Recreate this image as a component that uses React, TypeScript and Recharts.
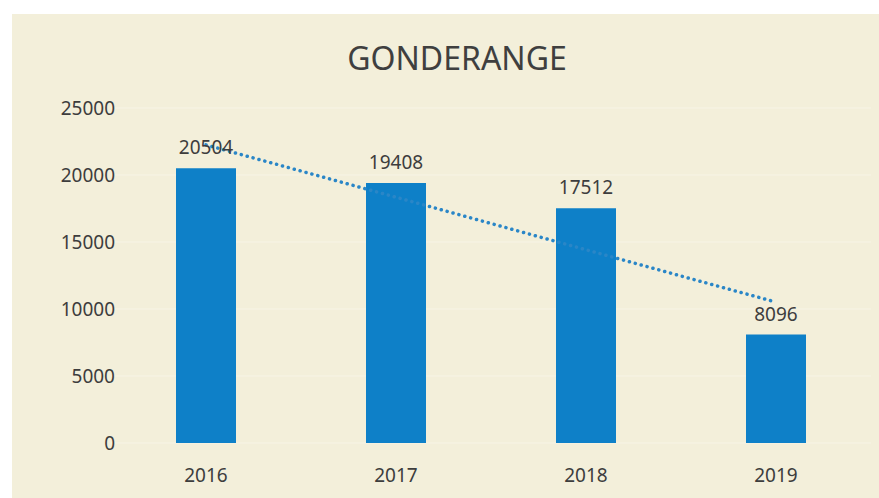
import React from "react";
import {
  ComposedChart,
  Bar,
  Line,
  XAxis,
  YAxis,
  CartesianGrid,
  LabelList,
} from "recharts";

const years = ["2016", "2017", "2018", "2019"];
const values = [20504, 19408, 17512, 8096];
// linear trendline as drawn
const trend = [22250, 18340, 14420, 10510];
const yTicks = [0, 5000, 10000, 15000, 20000, 25000];

const data = years.map((year, i) => ({
  year,
  value: values[i],
  trend: trend[i],
}));

const FONT = "'Noto Sans', 'Open Sans', sans-serif";
const TEXT = "#3d3d3d";

function YTick(props: any) {
  const { x, y, payload } = props;
  return (
    <text
      x={x + 12}
      y={y}
      dy={7}
      textAnchor="end"
      fill={TEXT}
      fontSize={19}
      fontFamily={FONT}
    >
      {payload.value}
    </text>
  );
}

export default function App() {
  return (
    <div
      style={{
        position: "absolute",
        left: 0,
        top: 0,
        width: 879,
        height: 498,
        background: "#ffffff",
        overflow: "hidden",
      }}
    >
      <div
        style={{
          position: "absolute",
          left: 12,
          top: 14,
          width: 867,
          height: 484,
          background: "#f3efda",
        }}
      >
        <div
          style={{
            position: "absolute",
            left: 0,
            top: 24,
            width: 890,
            textAlign: "center",
            fontFamily: FONT,
            fontSize: 32,
            color: "#3f3f3f",
            lineHeight: "40px",
          }}
        >
          GONDERANGE
        </div>
        <ComposedChart
          width={867}
          height={484}
          data={data}
          margin={{ top: 94, right: 8, bottom: 25, left: 0 }}
          style={{ position: "absolute", left: 0, top: 0 }}
        >
          <CartesianGrid vertical={false} stroke="#f7f4e6" />
          <XAxis
            dataKey="year"
            height={30}
            axisLine={false}
            tickLine={false}
            tickMargin={20}
            tick={{ fill: TEXT, fontSize: 19, fontFamily: FONT }}
          />
          <YAxis
            width={99}
            domain={[0, 25000]}
            ticks={yTicks}
            axisLine={false}
            tickLine={false}
            tick={<YTick />}
          />
          <Bar
            dataKey="value"
            fill="#0e80c8"
            barSize={60}
            isAnimationActive={false}
          >
            <LabelList
              dataKey="value"
              position="top"
              offset={14}
              fill={TEXT}
              fontSize={19}
              fontFamily={FONT}
            />
          </Bar>
          <Line
            dataKey="trend"
            stroke="#2a86c7"
            strokeWidth={3.5}
            strokeDasharray="0.1 6"
            strokeLinecap="round"
            dot={false}
            activeDot={false}
            isAnimationActive={false}
          />
        </ComposedChart>
      </div>
    </div>
  );
}
